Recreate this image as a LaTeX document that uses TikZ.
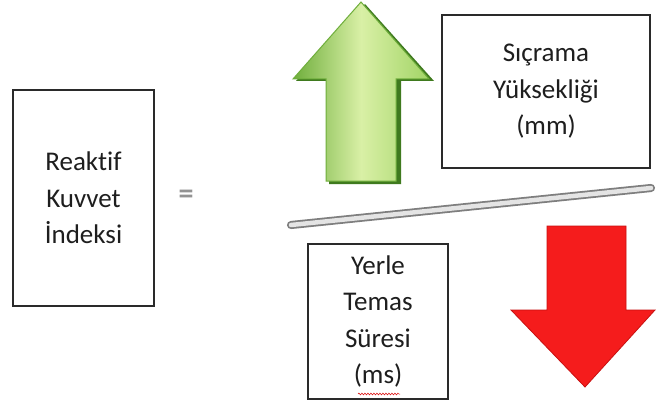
\documentclass[tikz,border=0pt]{standalone}
\usepackage{fontspec}
\setmainfont{Carlito}[Ligatures=NoCommon]
\usetikzlibrary{decorations.pathmorphing}
\definecolor{boxline}{HTML}{2A2A2A}
\definecolor{txt}{HTML}{1E1E1E}
\definecolor{gdark}{HTML}{3F7A1E}
\definecolor{gedge}{HTML}{6FAE3C}
\definecolor{glight}{HTML}{D9F0A6}
\definecolor{gmid}{HTML}{A2D466}
\definecolor{rfill}{HTML}{F51C1C}
\definecolor{redge}{HTML}{C81010}
\definecolor{barline}{HTML}{7E7E7E}
\definecolor{barcore}{HTML}{E4E4E4}
\tikzset{
  textbox/.style={draw=boxline, line width=1.2pt, fill=white, align=center,
    text=txt, font=\fontsize{27}{36.5}\selectfont, inner sep=0pt},
}
\begin{document}
\begin{tikzpicture}[x=1pt,y=-1pt]
\useasboundingbox[fill=white] (0,0) rectangle (656,401);

% seesaw bar
\draw[draw=barline, line width=1.8pt, double=barcore, double distance=4.5pt, line cap=round]
  (291,225) -- (651,188);

% green up arrow: shadow, then body
\fill[gdark] (365,4) -- (434,81) -- (401,81) -- (401,184) -- (329,184) -- (329,81) -- (296,81) -- cycle;
\shade[left color=gedge, right color=gmid, middle color=glight, draw=gedge, line width=1pt]
  (361,2) -- (429,79) -- (396,79) -- (396,181) -- (326,181) -- (326,79) -- (293,79) -- cycle;

% red down arrow
\fill[rfill, draw=redge, line width=0.8pt]
  (547,226) -- (626,226) -- (626,310) -- (655,310) -- (585,387) -- (511,310) -- (547,310) -- cycle;

% formula boxes
\node[textbox, minimum width=141pt, minimum height=216pt] (rki) at (83.5,198)
  {Reaktif\\Kuvvet\\İndeksi};
\node[text=gray!85, font=\fontsize{30}{30}\selectfont\bfseries] (eq) at (186,197) {=};
\node[textbox, minimum width=208pt, minimum height=153pt] (jump) at (546,91.5)
  {Sıçrama\\Yüksekliği\\(mm)};
\node[textbox, minimum width=140pt, minimum height=155pt] (contact) at (378,321.5)
  {Yerle\\Temas\\Süresi\\(ms)};

% spell-check squiggle under the unit
\draw[red!85!black, line width=0.5pt, decorate,
  decoration={snake, amplitude=0.9pt, segment length=3pt}] (358,394) -- (400,394);
\end{tikzpicture}
\end{document}
